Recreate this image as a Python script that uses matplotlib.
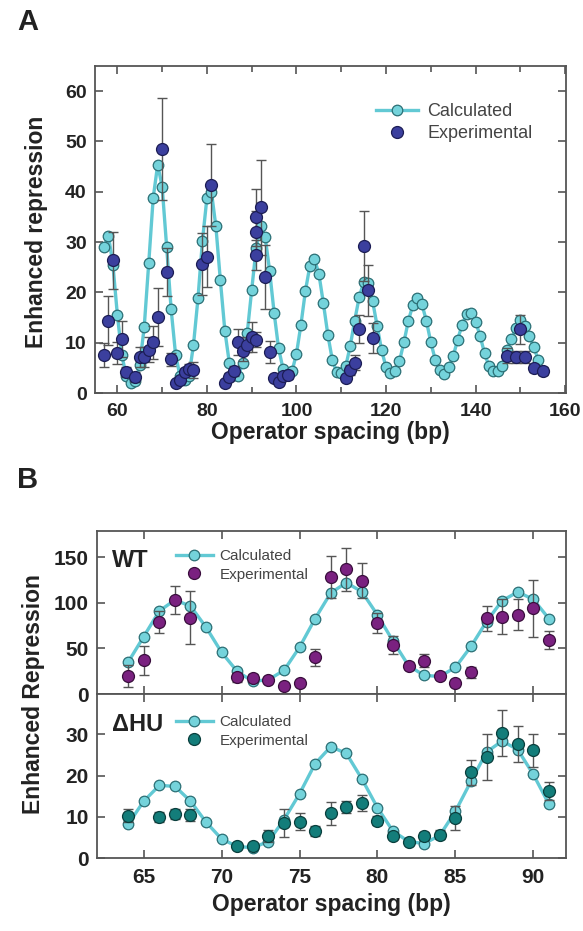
import numpy as np
import matplotlib
matplotlib.use("Agg")
import matplotlib.pyplot as plt
from matplotlib.ticker import MultipleLocator, FixedLocator
from matplotlib.lines import Line2D

plt.rcParams['font.family'] = ['Liberation Sans', 'DejaVu Sans']

# ---------------- Panel A data ----------------
calcA_x = list(range(57, 156))
calcA_y = [29.0, 31.3, 25.5, 15.5, 7.5, 3.3, 2.0, 2.3, 5.6, 13.2,
           25.8, 38.8, 45.4, 41.0, 29.1, 16.7, 7.6, 3.3, 2.6, 3.4,
           9.6, 18.8, 30.3, 38.8, 40.0, 33.1, 22.4, 12.4, 6.0, 3.6,
           3.4, 6.0, 11.9, 20.5, 28.8, 33.1, 31.1, 24.3, 16.0, 8.9,
           4.8, 3.8, 4.3, 7.8, 13.6, 20.3, 25.3, 26.7, 23.7, 17.9,
           11.6, 6.6, 4.1, 4.0, 5.3, 9.3, 14.4, 19.0, 22.0, 21.8,
           18.3, 13.4, 8.6, 5.1, 4.0, 4.4, 6.3, 10.1, 14.4, 17.5,
           18.8, 17.7, 14.4, 10.1, 6.6, 4.6, 3.8, 5.1, 7.3, 10.6,
           13.6, 15.7, 15.9, 14.2, 11.4, 7.9, 5.3, 4.3, 4.3, 5.4,
           8.6, 10.7, 12.9, 14.6, 13.4, 11.4, 9.1, 6.6, 4.4]

expA_x = [57, 58, 59, 60, 61, 62, 64, 65, 66, 67, 68, 69, 70, 71, 72, 73, 74, 75, 76, 77,
          79, 80, 81, 84, 85, 86, 87, 88, 89, 90, 91, 91, 91, 91, 92, 93, 94, 95, 96, 97, 98,
          111, 112, 113, 114, 115, 116, 117, 147, 149, 150, 151, 153, 155]
expA_y = [7.5, 14.4, 26.4, 8.0, 10.7, 4.1, 3.2, 7.1, 7.1, 8.6, 10.1, 15.1, 48.5, 24.1, 6.7,
          1.9, 2.5, 4.2, 4.7, 4.5, 25.7, 27.1, 41.3, 2.0, 3.1, 4.4, 10.2, 8.3, 9.6, 11.2,
          10.6, 27.4, 32.1, 34.9, 36.9, 23.0, 8.1, 3.0, 2.1, 3.3, 3.6,
          3.0, 4.6, 6.0, 12.8, 29.2, 20.4, 10.9, 7.4, 7.2, 12.7, 7.1, 4.9, 4.4]
expA_err = [2.4, 4.8, 5.7, 2.2, 3.6, 1.0, 1.0, 2.0, 2.0, 2.5, 3.3, 5.7, 10.1, 4.8, 1.3,
            0.5, 0.6, 0.8, 1.0, 1.6, 6.2, 6.0, 8.1, 0.5, 0.8, 1.0, 2.6, 2.0, 1.5, 3.0,
            1.5, 3.0, 4.0, 5.6, 9.4, 6.4, 2.2, 0.5, 0.5, 0.6, 0.8,
            0.6, 1.0, 1.5, 2.8, 7.0, 5.0, 3.0, 1.5, 1.2, 2.9, 1.2, 0.8, 0.8]

# ---------------- Panel B data ----------------
calcB_x = list(range(64, 92))
wt_calc = [35.0, 63.1, 91.2, 103.2, 96.6, 73.3, 45.6, 24.8, 13.9, 15.7,
           25.9, 51.4, 82.8, 111.0, 122.2, 112.3, 86.8, 58.0, 31.0, 20.4,
           19.3, 29.2, 52.2, 79.5, 102.5, 112.0, 104.0, 82.8]
wt_exp_x = [64, 65, 66, 67, 68, 71, 72, 73, 74, 75, 76, 77, 78, 79, 80, 81, 82, 83, 84,
            85, 86, 87, 88, 89, 90, 91]
wt_exp_y = [19.3, 36.8, 79.5, 103.2, 83.9, 18.2, 17.5, 15.7, 8.4, 12.0, 40.1, 128.7,
            136.8, 124.4, 78.4, 54.0, 31.0, 36.5, 19.3, 12.0, 24.0, 83.2, 85.0, 86.8,
            94.0, 59.4]
wt_exp_err = [12, 15.5, 12, 15.5, 29, 5, 4, 3, 2, 3, 9.5, 23, 24, 19.5, 11, 10, 4, 7, 3,
              3, 6, 13.5, 19, 17, 31.5, 9.7]

hu_calc = [8.2, 13.8, 17.6, 17.4, 13.8, 8.7, 4.6, 2.8, 2.5, 4.0,
           9.3, 15.6, 22.9, 27.0, 25.4, 19.2, 12.2, 6.5, 4.0, 3.5,
           5.5, 11.3, 18.6, 25.7, 28.4, 26.3, 20.3, 13.1]
hu_exp_x = [64, 66, 67, 68, 71, 72, 73, 74, 75, 76, 77, 78, 79, 80, 81, 82, 83, 84, 85,
            86, 87, 88, 89, 90, 91]
hu_exp_y = [10.3, 9.9, 10.7, 10.5, 3.0, 3.0, 5.4, 8.5, 8.8, 6.5, 10.9, 12.4, 13.4, 9.1,
            5.4, 4.0, 5.3, 5.7, 9.7, 20.8, 24.5, 30.4, 27.7, 26.1, 16.2]
hu_exp_err = [1.5, 1.2, 1.3, 1.5, 0.5, 0.5, 1.5, 3.4, 2.0, 1.2, 2.8, 1.5, 2.0, 1.0, 0.5,
              0.5, 1.0, 1.0, 2.8, 3.0, 5.5, 5.6, 4.3, 4.0, 2.2]

wt_yticks = [0, 50, 100, 150]
hu_yticks = [0, 10, 20, 30]

# ---------------- styles ----------------
CY_LINE = '#62c9d4'
CY_FACE = '#74d3db'
CY_EDGE = '#2b6f75'
BLUE = '#3b3f9e'
BLUE_EDGE = '#1c1d55'
PURPLE = '#7a2180'
PURPLE_EDGE = '#3a0e3d'
TEAL = '#137d7a'
TEAL_EDGE = '#0a3f3d'
ERR = '#555555'
SPINE = '#555555'
TXT = '#222222'
LEGTXT = '#444444'

W, H = 583, 931
fig = plt.figure(figsize=(W / 100, H / 100), dpi=100)


def px_axes(left, top, right, bottom):
    return fig.add_axes([left / W, 1 - bottom / H, (right - left) / W, (bottom - top) / H])


def style_axes(ax, labelsize):
    for s in ax.spines.values():
        s.set_color(SPINE)
        s.set_linewidth(1.3)
    ax.tick_params(which='both', direction='in', top=True, right=True,
                   color=SPINE, width=1.2, labelsize=labelsize)
    ax.tick_params(which='major', length=6)
    ax.tick_params(which='minor', length=4)
    ax.tick_params(axis='x', which='both', pad=7)
    ax.tick_params(axis='y', which='both', pad=6)
    for lab in ax.get_xticklabels() + ax.get_yticklabels():
        lab.set_fontweight('bold')
        lab.set_color(TXT)


# ---------------- Panel A ----------------
axA = px_axes(95, 66, 566, 393)
axA.plot(calcA_x, calcA_y, '-', color=CY_LINE, lw=2.4, zorder=2)
axA.plot(calcA_x, calcA_y, 'o', ms=7.6, mfc=CY_FACE, mec=CY_EDGE, mew=0.9, zorder=3)
axA.errorbar(expA_x, expA_y, yerr=expA_err, fmt='none', ecolor=ERR, elinewidth=1.0,
             capsize=3.5, capthick=1.0, zorder=4)
axA.plot(expA_x, expA_y, 'o', ms=8.6, mfc=BLUE, mec=BLUE_EDGE, mew=0.9, zorder=5)
axA.set_xlim(55, 160.2)
axA.set_ylim(0, 65)
axA.xaxis.set_major_locator(MultipleLocator(20))
axA.xaxis.set_minor_locator(MultipleLocator(10))
axA.yaxis.set_major_locator(MultipleLocator(10))
style_axes(axA, 14)

hA = [Line2D([0], [0], color=CY_LINE, lw=2.4, marker='o', ms=7.6, mfc=CY_FACE,
             mec=CY_EDGE, mew=0.9),
      Line2D([0], [0], ls='none', marker='o', ms=8.6, mfc=BLUE, mec=BLUE_EDGE, mew=0.9)]
legA = axA.legend(hA, ['Calculated', 'Experimental'], loc='upper left',
                  bbox_to_anchor=((376 - 95) / 471, (393 - 103) / 327),
                  frameon=False, fontsize=13, handlelength=2.3, handletextpad=0.55,
                  labelspacing=0.3, borderpad=0, borderaxespad=0)
for t in legA.get_texts():
    t.set_color(LEGTXT)

fig.text(330 / W, 1 - 433 / H, 'Operator spacing (bp)', fontsize=16.5, fontweight='bold',
         color=TXT, ha='center', va='center')
fig.text(37 / W, 1 - 232 / H, 'Enhanced repression', rotation=90, fontsize=16.5,
         fontweight='bold', color=TXT, ha='center', va='center')

fig.text(17 / W, 1 - 22 / H, 'A', fontsize=21, fontweight='bold', color=TXT,
         va='center', ha='left')
fig.text(17 / W, 1 - 480 / H, 'B', fontsize=21, fontweight='bold', color=TXT,
         va='center', ha='left')

# ---------------- Panel B ----------------
axW = px_axes(97, 531, 566, 694)
axH = px_axes(97, 694, 566, 858)

panels = [(axW, wt_calc, wt_exp_x, wt_exp_y, wt_exp_err, PURPLE, PURPLE_EDGE,
           (0, 179), wt_yticks, 'WT', 0.822, 0.89),
          (axH, hu_calc, hu_exp_x, hu_exp_y, hu_exp_err, TEAL, TEAL_EDGE,
           (0, 39.8), hu_yticks, '\u0394HU', 0.817, 0.872)]
for ax, calc, ex, ey, ee, col, ecol, ylim, yt, label, ly, legy in panels:
    ax.plot(calcB_x, calc, '-', color=CY_LINE, lw=2.4, zorder=2)
    ax.plot(calcB_x, calc, 'o', ms=7.6, mfc=CY_FACE, mec=CY_EDGE, mew=0.9, zorder=3)
    ax.errorbar(ex, ey, yerr=ee, fmt='none', ecolor=ERR, elinewidth=1.0,
                capsize=3.5, capthick=1.0, zorder=4)
    ax.plot(ex, ey, 'o', ms=8.6, mfc=col, mec=ecol, mew=0.9, zorder=5)
    ax.set_xlim(62, 92.1)
    ax.set_ylim(*ylim)
    ax.xaxis.set_major_locator(MultipleLocator(5))
    ax.yaxis.set_major_locator(FixedLocator(yt))
    style_axes(ax, 15)
    ax.text((112 - 97) / 469, ly, label, transform=ax.transAxes, fontsize=17,
            fontweight='bold', color=TXT, va='center', ha='left')
    h = [Line2D([0], [0], color=CY_LINE, lw=2.4, marker='o', ms=7.6, mfc=CY_FACE,
                mec=CY_EDGE, mew=0.9),
         Line2D([0], [0], ls='none', marker='o', ms=8.6, mfc=col, mec=ecol, mew=0.9)]
    leg = ax.legend(h, ['Calculated', 'Experimental'], loc='upper left',
                    bbox_to_anchor=((176 - 97) / 469, legy), frameon=False,
                    fontsize=11, handlelength=2.4, handletextpad=0.45,
                    labelspacing=0.3, borderpad=0, borderaxespad=0)
    for t in leg.get_texts():
        t.set_color(LEGTXT)

axW.tick_params(axis='x', labelbottom=False)
fig.text(331 / W, 1 - 905 / H, 'Operator spacing (bp)', fontsize=16.5, fontweight='bold',
         color=TXT, ha='center', va='center')
fig.text(34 / W, 1 - 694 / H, 'Enhanced Repression', rotation=90, fontsize=16.5,
         fontweight='bold', color=TXT, va='center', ha='center')

fig.savefig('out.png', dpi=100)
